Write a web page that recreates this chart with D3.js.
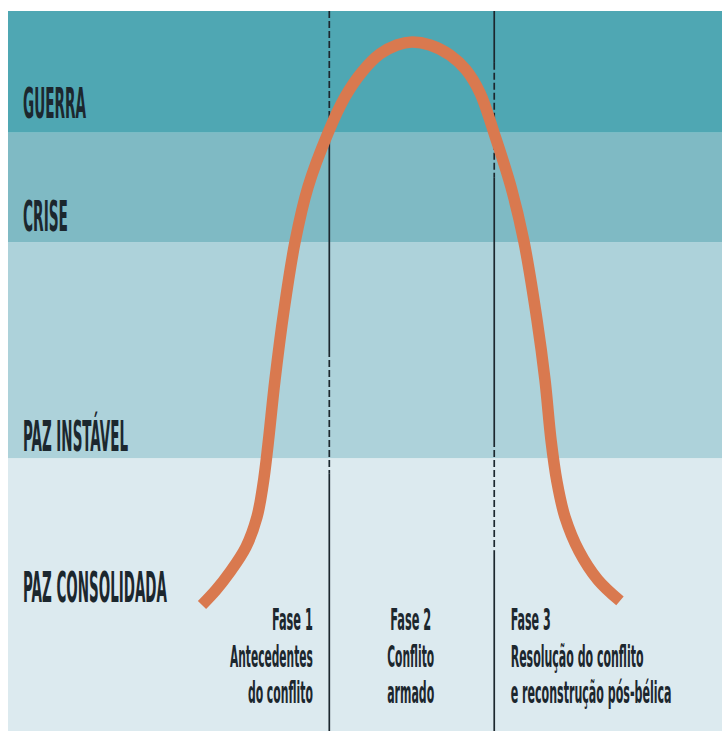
<!DOCTYPE html>
<html>
<head>
<meta charset="utf-8">
<script src="https://cdn.jsdelivr.net/npm/d3@7"></script>
<style>
  html, body { margin: 0; padding: 0; background: #ffffff; }
  svg { display: block; }
  text { font-family: "Liberation Sans Narrow", "DejaVu Sans Condensed", "Roboto", sans-serif; font-weight: bold; }
</style>
</head>
<body>
<svg id="chart" width="722" height="731"></svg>
<script>
// ---------------- DATA ----------------
// Conflict levels (bands), bottom to top, on a 0–100 intensity scale
const bandNames  = ["PAZ CONSOLIDADA", "PAZ INSTÁVEL", "CRISE", "GUERRA"];
const bandLower  = [0, 37.9, 67.9, 83.1];
const bandUpper  = [37.9, 67.9, 83.1, 100];

// Phase dividers on a 0–100 time scale
const phaseDividers = [45, 68.1];

// Phase captions (lines)
const phaseLines = [
  ["Fase 1", "Antecedentes", "do conflito"],
  ["Fase 2", "Conflito", "armado"],
  ["Fase 3", "Resolução do conflito", "e reconstrução pós-bélica"]
];

// Conflict curve: time (0–100) and intensity (0–100)
const curveTime = [27.17, 29.13, 31.09, 33.33, 34.87, 35.71, 36.41, 37.39, 38.66, 40.2, 42.02, 44.82,
                   47.2, 49.58, 52.1, 54.48, 56.58, 59.1, 61.9, 64.15, 66.11, 68.07, 70.45, 72.27,
                   74.09, 75.21, 76.05, 76.89, 78.01, 79.97, 82.63, 85.71];
const curveLevel = [17.5, 19.58, 22.08, 25.56, 29.72, 34.17, 39.72, 48.75, 58.47, 67.92, 75.56, 83.06,
                    88.06, 91.53, 94.03, 95.28, 95.69, 95.28, 93.89, 91.81, 88.61, 83.06, 75.56, 67.92,
                    57.08, 48.75, 40.42, 34.58, 29.72, 25.0, 20.97, 18.06];

// ---------------- LAYOUT / STYLE ----------------
const panel = { left: 8, right: 722, top: 11, bottom: 731 };
const bandColors = ["#dceaef", "#add2da", "#7fbac4", "#4fa7b3"];
const curveColor = "#d9794f";
const inkColor = "#1c272e";

// label baselines (intensity units), widths (px)
const bandLabelLevel = [17.9, 38.9, 69.4, 85.1];
const bandLabelWidth = [144, 105, 45, 63];
// phase caption anchors (time units) and line widths
const phaseAnchorTime = [42.7, 56.4, 70.4];
const phaseAnchor = ["end", "middle", "start"];
const phaseLineWidths = [[41, 83, 65], [41, 47, 47], [40, 133, 161]];
const phaseBaselines = [630, 667, 703];

// dashed spans of divider lines (intensity ranges)
const dashedSpans = [
  [[85.3, 100], [35.8, 52.9]],
  [[76.9, 92.8], [25.1, 40.4]]
];

// ---------------- SCALES ----------------
const x = d3.scaleLinear().domain([0, 100]).range([panel.left, panel.right]);
const y = d3.scaleLinear().domain([0, 100]).range([panel.bottom, panel.top]);

const svg = d3.select("#chart");

// bands
const bands = bandNames.map((n, i) => ({ name: n, lo: bandLower[i], hi: bandUpper[i], color: bandColors[i] }));
svg.append("g").selectAll("rect").data(bands).join("rect")
  .attr("x", x(0))
  .attr("width", x(100) - x(0))
  .attr("y", d => y(d.hi))
  .attr("height", d => y(d.lo) - y(d.hi))
  .attr("fill", d => d.color);

// divider lines: segments, solid or dashed
const divG = svg.append("g");
phaseDividers.forEach((t, i) => {
  const spans = dashedSpans[i].slice().sort((a, b) => a[0] - b[0]);
  const segs = [];
  let cur = 0;
  spans.forEach(s => {
    if (s[0] > cur) segs.push({ a: cur, b: s[0], dashed: false });
    segs.push({ a: s[0], b: s[1], dashed: true });
    cur = s[1];
  });
  if (cur < 100) segs.push({ a: cur, b: 100, dashed: false });
  divG.selectAll(null).data(segs).join("line")
    .attr("x1", x(t)).attr("x2", x(t))
    .attr("y1", d => y(d.b)).attr("y2", d => y(d.a))
    .attr("stroke", inkColor)
    .attr("stroke-width", 1.7)
    .attr("stroke-dasharray", d => d.dashed ? "7,3" : null);
});

// curve
const pts = curveTime.map((t, i) => [t, curveLevel[i]]);
const line = d3.line()
  .x(d => x(d[0]))
  .y(d => y(d[1]))
  .curve(d3.curveCatmullRom.alpha(0.5));
svg.append("path")
  .datum(pts)
  .attr("d", line)
  .attr("fill", "none")
  .attr("stroke", curveColor)
  .attr("stroke-width", 11.5)
  .attr("stroke-linecap", "butt");

// helper: condensed text by horizontal scaling to a target width
function fitText(g, str, px, py, anchor, size, width) {
  const t = g.append("text")
    .attr("x", 0).attr("y", 0)
    .attr("text-anchor", anchor)
    .attr("font-size", size)
    .attr("fill", inkColor)
    .text(str);
  const len = t.node().getComputedTextLength() || width;
  t.attr("transform", `translate(${px},${py}) scale(${width / len},1)`);
}

// band labels
const labG = svg.append("g");
bands.forEach((d, i) => fitText(labG, d.name, 23, y(bandLabelLevel[i]), "start", 43, bandLabelWidth[i]));

// phase captions
const capG = svg.append("g");
phaseLines.forEach((lines, p) => {
  lines.forEach((s, j) => fitText(capG, s, x(phaseAnchorTime[p]), phaseBaselines[j], phaseAnchor[p], 30, phaseLineWidths[p][j]));
});
</script>
</body>
</html>
